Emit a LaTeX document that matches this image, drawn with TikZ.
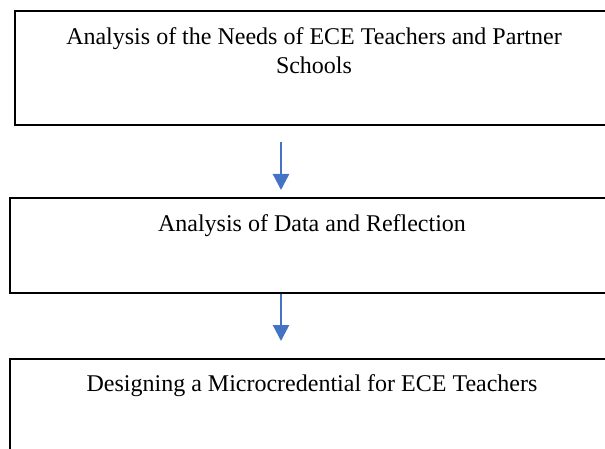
\documentclass[tikz,border=0pt]{standalone}
\usepackage{fontspec}
\setmainfont{Liberation Serif}
\usetikzlibrary{arrows.meta}
\definecolor{flowblue}{HTML}{4472C4}
\begin{document}
\begin{tikzpicture}[x=1pt,y=-1pt,
  stagebox/.style={draw=black,line width=2.6pt},
  stagetext/.style={font=\fontsize{24}{29}\selectfont,inner sep=0pt,anchor=base},
  flow/.style={draw=flowblue,line width=2.4pt,-{Triangle[length=16pt,width=16pt]}}]
\useasboundingbox (0,0) rectangle (605,449);
\clip (0,0) rectangle (605,449);
% the three stages of the process
\draw[stagebox] (15,11) rectangle (640,125);
\draw[stagebox] (10,198) rectangle (640,293);
\draw[stagebox] (10,359) rectangle (640,480);
\node[stagetext] (n1a) at (314,45) {Analysis of the Needs of ECE Teachers and Partner};
\node[stagetext] (n1b) at (314,74) {Schools};
\node[stagetext] (n2) at (312,232) {Analysis of Data and Reflection};
\node[stagetext] (n3) at (312,391) {Designing a Microcredential for ECE Teachers};
% arrows between stages
\coordinate (a1) at (281,142);
\coordinate (b1) at (281,190);
\coordinate (a2) at (281,294);
\coordinate (b2) at (281,341);
\draw[flow] (a1) -- (b1);
\draw[flow] (a2) -- (b2);
\end{tikzpicture}
\end{document}
